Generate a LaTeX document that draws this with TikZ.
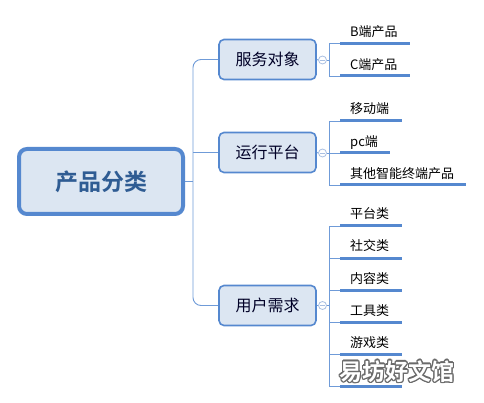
\documentclass[tikz,border=0pt]{standalone}
\usepackage{fontspec}
\usetikzlibrary{calc}
\setmainfont{Noto Sans CJK SC}
\newfontfamily\cjkbold{Noto Sans CJK SC Bold}
\usepackage[copies]{contour}
\contourlength{1.2pt}
\contournumber{16}
\definecolor{bord}{HTML}{5588CF}
\definecolor{boxfill}{HTML}{DCE6F2}
\definecolor{roottext}{HTML}{2F5C93}
\definecolor{conn}{HTML}{6F9BD8}
\definecolor{knob}{HTML}{A9BFE2}
\definecolor{wm}{HTML}{6A6A6A}
\begin{document}
\begin{tikzpicture}[x=1pt,y=-1pt,
  rootbox/.style={draw=bord,line width=4pt,fill=boxfill,rounded corners=8pt,minimum width=164pt,minimum height=65pt,font=\cjkbold\fontsize{23}{23}\selectfont,text=roottext,inner sep=0pt},
  branch/.style={draw=bord,line width=1.6pt,fill=boxfill,rounded corners=5pt,minimum width=97pt,minimum height=40pt,font=\fontsize{16}{16}\selectfont,text=black!85!blue,inner sep=0pt},
  leaf/.style={anchor=base west,inner sep=0pt,font=\fontsize{13}{13}\selectfont,text=black},
  thin/.style={draw=conn,line width=0.9pt},
  uline/.style={draw=bord,line width=3pt},
  knobst/.style={circle,draw=knob,line width=0.8pt,fill=white,minimum size=8pt,inner sep=0pt}
]
\path[use as bounding box] (0,0) rectangle (484,403);

% root and branches
\node[rootbox] (root) at (101,181.5) {产品分类};
\node[branch] (svc) at (267.5,59.5) {服务对象};
\node[branch] (run) at (267.5,152.5) {运行平台};
\node[branch] (usr) at (267.5,305.5) {用户需求};

% trunk
\coordinate (tk) at (193,181.5);
\coordinate (tkr) at (193,152.5);
\draw[thin,rounded corners=8pt] (svc.west) -| (tk) |- (usr.west);
\draw[thin] (root.east) -- (tk);
\draw[thin] (run.west) -- (tkr);

% knobs
\node[knobst] (k1) at (322.5,60) {};
\node[knobst] (k2) at (322.5,153) {};
\node[knobst] (k3) at (322.5,305.5) {};
\foreach \k in {k1,k2,k3}{\draw[knob,line width=0.8pt] ($(\k.center)+(-2.2,0)$) -- ($(\k.center)+(2.2,0)$);}
\draw[thin] (svc.east) -- (k1.west);
\draw[thin] (run.east) -- (k2.west);
\draw[thin] (usr.east) -- (k3.west);

% brackets
\coordinate (b1t) at (329,43); \coordinate (b1b) at (329,76);
\draw[thin] (k1.east) -- (329,60);
\draw[thin] (341,43) -- (b1t) -- (b1b) -- (341,76);
\coordinate (b2t) at (329,121); \coordinate (b2b) at (329,185);
\draw[thin] (k2.east) -- (329,153);
\draw[thin] (341,121) -- (b2t) -- (b2b) -- (341,185);
\draw[thin] (329,153) -- (341,153);
\coordinate (b3t) at (329,226); \coordinate (b3b) at (329,386);
\draw[thin] (k3.east) -- (329,305.5);
\draw[thin] (341,226) -- (b3t) -- (b3b) -- (341,386);
\foreach \y in {258,290,322,354}{\draw[thin] (329,\y) -- (341,\y);}

% leaves service
\node[leaf] (l11) at (350,37) {B端产品};
\draw[uline] (340,43.5) -- (410,43.5);
\node[leaf] (l12) at (350,69.5) {C端产品};
\draw[uline] (340,76) -- (410,76);
% leaves platform
\node[leaf] (l21) at (350,114) {移动端};
\draw[uline] (340,121) -- (402,121);
\node[leaf] (l22) at (350,146.5) {pc端};
\draw[uline] (340,153) -- (390,153);
\node[leaf] (l23) at (350,178.5) {其他智能终端产品};
\draw[uline] (340,185) -- (466,185);
% leaves user
\node[leaf] (l31) at (350,219) {平台类};
\node[leaf] (l32) at (350,251) {社交类};
\node[leaf] (l33) at (350,283) {内容类};
\node[leaf] (l34) at (350,315) {工具类};
\node[leaf] (l35) at (350,347) {游戏类};
\foreach \y in {226,258,290,322,354,386}{\draw[uline] (340,\y) -- (402,\y);}

% watermark
\node[inner sep=0pt,font=\cjkbold\fontsize{23}{23}\selectfont] (wmk) at (397,372) {\contour{wm}{\textcolor{white}{易坊好文馆}}};
\end{tikzpicture}
\end{document}
